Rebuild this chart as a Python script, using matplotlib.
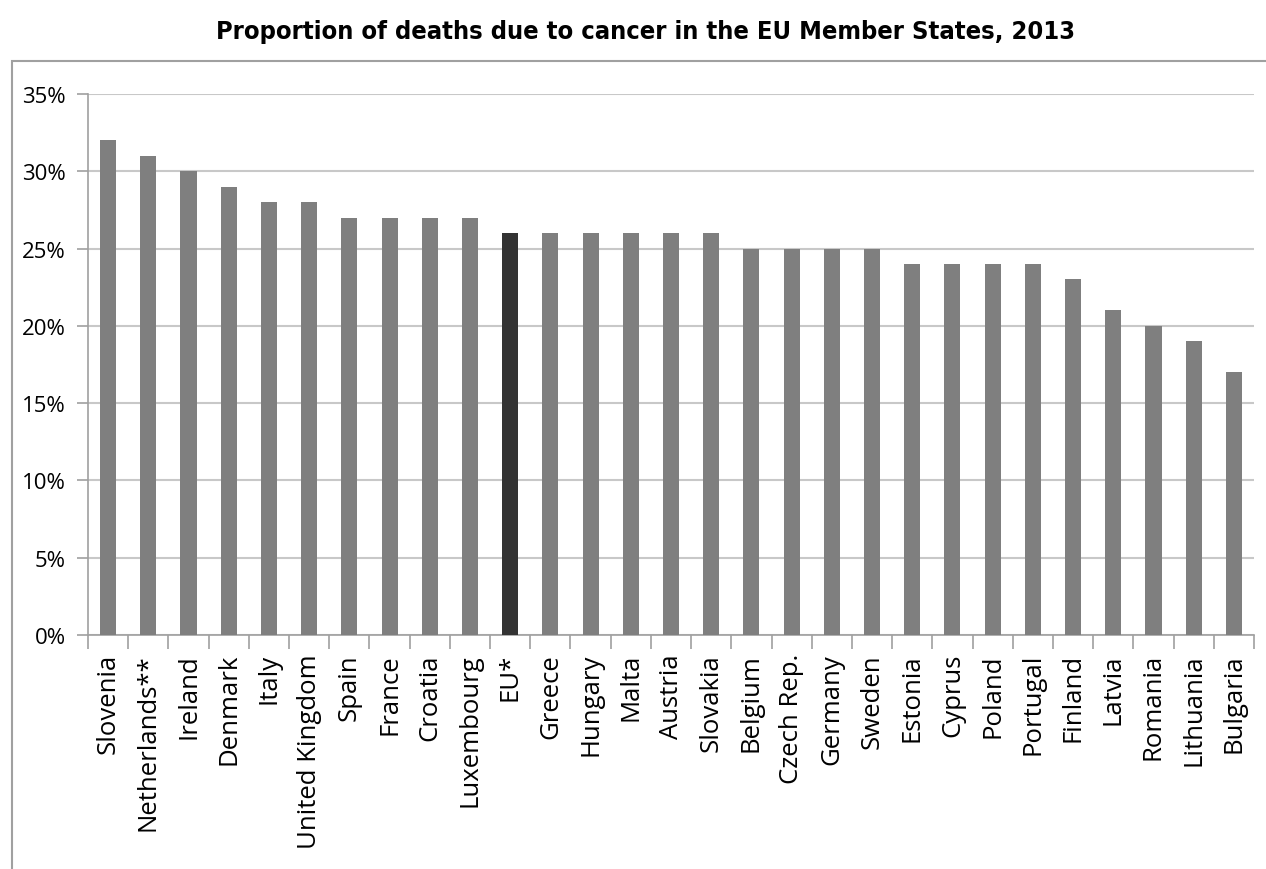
import matplotlib
matplotlib.use("Agg")
import matplotlib.pyplot as plt
from matplotlib.patches import Rectangle
from matplotlib.ticker import FuncFormatter, FixedLocator

countries = ["Slovenia", "Netherlands**", "Ireland", "Denmark", "Italy", "United Kingdom",
             "Spain", "France", "Croatia", "Luxembourg", "EU*", "Greece", "Hungary", "Malta",
             "Austria", "Slovakia", "Belgium", "Czech Rep.", "Germany", "Sweden", "Estonia",
             "Cyprus", "Poland", "Portugal", "Finland", "Latvia", "Romania", "Lithuania", "Bulgaria"]
values = [32, 31, 30, 29, 28, 28, 27, 27, 27, 27, 26, 26, 26, 26, 26, 26, 25, 25, 25, 25,
          24, 24, 24, 24, 23, 21, 20, 19, 17]
highlight = "EU*"

fig = plt.figure(figsize=(12.66, 8.7), dpi=100)
ax = fig.add_axes([88/1266, 1-636/870, (1254-88)/1266, (636-95)/870])

colors = ["#333333" if c == highlight else "#7f7f7f" for c in countries]
x = list(range(len(countries)))
ax.bar(x, values, width=0.4, color=colors, zorder=3)

ax.set_xlim(-0.5, len(countries) - 0.5)
ax.set_ylim(0, 35)
ax.set_yticks(range(0, 36, 5))
ax.yaxis.set_major_formatter(FuncFormatter(lambda v, p: f"{int(v)}%"))
ax.grid(axis="y", color="#c8c8c8", linewidth=1.5, zorder=0)

ax.set_xticks(x)
ax.set_xticklabels(countries, rotation=90, fontsize=18.5, family="Open Sans")
ax.xaxis.set_major_locator(FixedLocator(x))
ax.set_xticks([i - 0.5 for i in range(len(countries) + 1)], minor=True)
ax.tick_params(axis="x", which="major", length=0, pad=13)
ax.tick_params(axis="x", which="minor", length=10, color="#a0a0a0", width=1.2)
ax.tick_params(axis="y", length=8, color="#a0a0a0", width=1.2, labelsize=16, pad=8)
for lab in ax.get_yticklabels():
    lab.set_family("Open Sans")

for s in ["top", "right"]:
    ax.spines[s].set_visible(False)
for s in ["left", "bottom"]:
    ax.spines[s].set_color("#a0a0a0")
    ax.spines[s].set_linewidth(1.2)

fig.patches.append(Rectangle((12/1266, -0.1), 1.2, 1 - 62/870 + 0.1, transform=fig.transFigure,
                             fill=False, edgecolor="#a0a0a0", linewidth=1.5))

fig.text(646/1266, 1-32/870, "Proportion of deaths due to cancer in the EU Member States, 2013",
         ha="center", va="center", fontsize=18.3, fontweight="bold", fontstretch="condensed",
         family="DejaVu Sans")

fig.savefig("out.png", dpi=100)
